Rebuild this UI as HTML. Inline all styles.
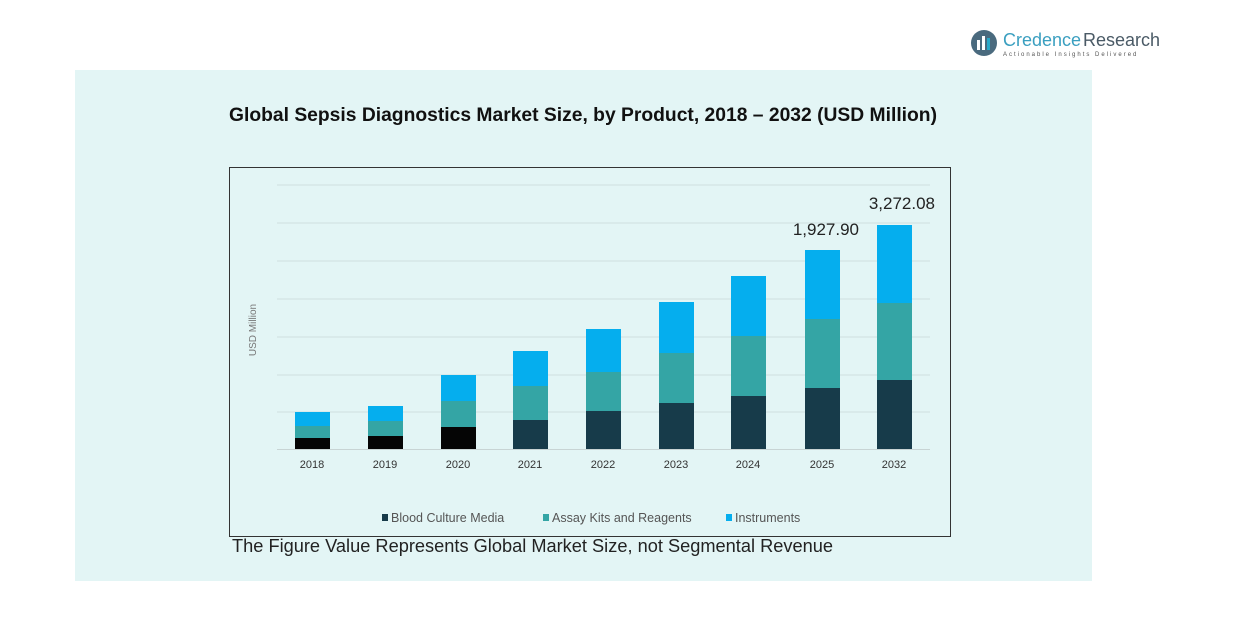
<!DOCTYPE html>
<html><head><meta charset="utf-8"><style>
html,body{margin:0;padding:0;background:#fff;width:1253px;height:626px;overflow:hidden;font-family:"Liberation Sans",sans-serif}
</style></head><body>
<svg width="1253" height="626" xmlns="http://www.w3.org/2000/svg" font-family="Liberation Sans, sans-serif">
<rect x="0" y="0" width="1253" height="626" fill="#fff"/>
<rect x="75" y="70" width="1017" height="511" fill="#e3f5f5"/>
<!-- logo -->
<circle cx="984" cy="43" r="13" fill="#4a6a7e"/>
<rect x="977" y="40" width="3" height="10" fill="#fff"/>
<rect x="982" y="36" width="3" height="14" fill="#fff"/>
<rect x="987" y="38" width="3" height="12" fill="#29a9c9"/>
<text x="1003" y="46" font-size="18" fill="#3a9fc0">Credence</text>
<text x="1083" y="46" font-size="18" fill="#4a5a66">Research</text>
<text x="1003" y="56" font-size="6" fill="#555" letter-spacing="2">Actionable Insights Delivered</text>
<text x="583" y="121" text-anchor="middle" font-size="19" font-weight="bold" fill="#111" textLength="708" lengthAdjust="spacingAndGlyphs">Global Sepsis Diagnostics Market Size, by Product, 2018 – 2032 (USD Million)</text>
<rect x="229.5" y="167.5" width="721" height="369" fill="none" stroke="#333" stroke-width="1"/>
<g stroke="#cfe0e0" stroke-width="1">
<line x1="277" y1="185" x2="930" y2="185"/><line x1="277" y1="223" x2="930" y2="223"/>
<line x1="277" y1="261" x2="930" y2="261"/><line x1="277" y1="299" x2="930" y2="299"/>
<line x1="277" y1="337" x2="930" y2="337"/><line x1="277" y1="375" x2="930" y2="375"/>
<line x1="277" y1="412" x2="930" y2="412"/><line x1="277" y1="449.5" x2="930" y2="449.5" stroke="#c8d4d4"/>
</g>
<text x="256" y="330" font-size="10" fill="#777" transform="rotate(-90 256 330)" text-anchor="middle">USD Million</text>
<g>
<rect x="295" y="412" width="35" height="14" fill="#05aeee"/><rect x="295" y="426" width="35" height="12" fill="#34a5a5"/><rect x="295" y="438" width="35" height="11" fill="#050505"/>
<rect x="368" y="406" width="35" height="15" fill="#05aeee"/><rect x="368" y="421" width="35" height="15" fill="#34a5a5"/><rect x="368" y="436" width="35" height="13" fill="#050505"/>
<rect x="441" y="375" width="35" height="26" fill="#05aeee"/><rect x="441" y="401" width="35" height="26" fill="#34a5a5"/><rect x="441" y="427" width="35" height="22" fill="#050505"/>
<rect x="513" y="351" width="35" height="35" fill="#05aeee"/><rect x="513" y="386" width="35" height="34" fill="#34a5a5"/><rect x="513" y="420" width="35" height="29" fill="#173b4a"/>
<rect x="586" y="329" width="35" height="43" fill="#05aeee"/><rect x="586" y="372" width="35" height="39" fill="#34a5a5"/><rect x="586" y="411" width="35" height="38" fill="#173b4a"/>
<rect x="659" y="302" width="35" height="51" fill="#05aeee"/><rect x="659" y="353" width="35" height="50" fill="#34a5a5"/><rect x="659" y="403" width="35" height="46" fill="#173b4a"/>
<rect x="731" y="276" width="35" height="60" fill="#05aeee"/><rect x="731" y="336" width="35" height="60" fill="#34a5a5"/><rect x="731" y="396" width="35" height="53" fill="#173b4a"/>
<rect x="805" y="250" width="35" height="69" fill="#05aeee"/><rect x="805" y="319" width="35" height="69" fill="#34a5a5"/><rect x="805" y="388" width="35" height="61" fill="#173b4a"/>
<rect x="877" y="225" width="35" height="78" fill="#05aeee"/><rect x="877" y="303" width="35" height="77" fill="#34a5a5"/><rect x="877" y="380" width="35" height="69" fill="#173b4a"/>
</g>
<g font-size="11" fill="#333" text-anchor="middle">
<text x="312" y="468">2018</text><text x="385" y="468">2019</text><text x="458" y="468">2020</text>
<text x="530" y="468">2021</text><text x="603" y="468">2022</text><text x="676" y="468">2023</text>
<text x="748" y="468">2024</text><text x="822" y="468">2025</text><text x="894" y="468">2032</text>
</g>
<text x="859" y="235" font-size="17" fill="#222" text-anchor="end">1,927.90</text>
<text x="935" y="209" font-size="17" fill="#222" text-anchor="end">3,272.08</text>
<g font-size="12.5" fill="#555">
<rect x="382" y="514" width="6" height="7" fill="#173b4a"/><text x="391" y="522">Blood Culture Media</text>
<rect x="543" y="514" width="6" height="7" fill="#34a5a5"/><text x="552" y="522">Assay Kits and Reagents</text>
<rect x="726" y="514" width="6" height="7" fill="#05aeee"/><text x="735" y="522">Instruments</text>
</g>
<text x="232" y="552" font-size="18" fill="#222" textLength="601" lengthAdjust="spacingAndGlyphs">The Figure Value Represents Global Market Size, not Segmental Revenue</text>
</svg>
</body></html>
